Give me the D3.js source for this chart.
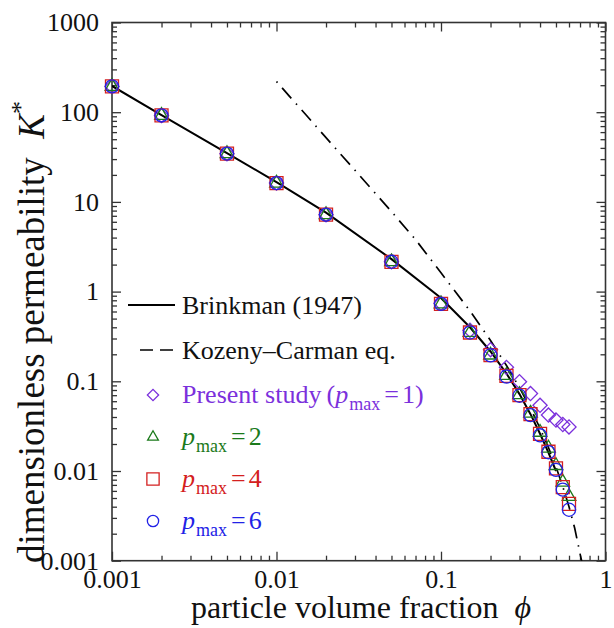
<!DOCTYPE html>
<html>
<head>
<meta charset="utf-8">
<script src="https://cdn.jsdelivr.net/npm/d3@7"></script>
<style>
  body { margin: 0; background: #fff; }
  text { font-family: 'Liberation Serif', 'Times New Roman', serif; }
</style>
</head>
<body>
<svg id="chart" width="614" height="628"></svg>
<script>
// ----- Data -----
// volume fractions of the computed points
let phiPoints = [0.001, 0.002, 0.005, 0.01, 0.02, 0.05, 0.1, 0.15, 0.2, 0.25, 0.3, 0.35, 0.4, 0.45, 0.5, 0.55, 0.6]

let kPmax1 = [194, 92, 34.5, 16.2, 7.2, 2.15, 0.74, 0.37, 0.225, 0.143, 0.099, 0.073, 0.054, 0.042, 0.037, 0.033, 0.031]
let kPmax2 = [194, 92, 34.5, 16.2, 7.2, 2.15, 0.73, 0.35, 0.196, 0.116, 0.071, 0.044, 0.027, 0.018, 0.0115, 0.0075, 0.0052]
let kPmax4 = [194, 92, 34.5, 16.2, 7.2, 2.15, 0.73, 0.35, 0.196, 0.115, 0.070, 0.043, 0.026, 0.0164, 0.0107, 0.0066, 0.0043]
let kPmax6 = [194, 92, 34.5, 16.2, 7.2, 2.15, 0.73, 0.35, 0.195, 0.113, 0.069, 0.042, 0.025, 0.0162, 0.0103, 0.0062, 0.0037]

// Brinkman (1947) curve
let phiBrinkman = [0.001, 0.002, 0.005, 0.01, 0.02, 0.05, 0.1, 0.15, 0.2, 0.25, 0.3, 0.35, 0.4, 0.45, 0.5]
let kBrinkman = [196, 93, 35, 16.6, 7.6, 2.3, 0.85, 0.40, 0.215, 0.122, 0.072, 0.043, 0.026, 0.016, 0.0100]

// Kozeny-Carman eq.
let phiKozeny = [0.01, 0.012, 0.015, 0.02, 0.03, 0.05, 0.07, 0.1, 0.15, 0.2, 0.25, 0.3, 0.35, 0.4, 0.45, 0.5, 0.55, 0.6, 0.65, 0.7, 0.72]
let kKozeny = [220, 150, 95, 52, 22.5, 7.8, 3.8, 1.62, 0.61, 0.285, 0.15, 0.085, 0.05, 0.03, 0.0183, 0.0111, 0.0067, 0.004, 0.0023, 0.0012, 0.00095]

// tick labels
let xTickValues = [0.001, 0.01, 0.1, 1]
let xTickLabels = ['0.001', '0.01', '0.1', '1']
let yTickValues = [0.001, 0.01, 0.1, 1, 10, 100, 1000]
let yTickLabels = ['0.001', '0.01', '0.1', '1', '10', '100', '1000']

// ----- SVG -----
let svg = d3.select('#chart')
let plotLeft = 112, plotRight = 605.5, plotTop = 22.5, plotBottom = 560.7
let axisColor = '#333'

let x = d3.scaleLog().domain([0.001, 1]).range([plotLeft, plotRight])
let y = d3.scaleLog().domain([0.001, 1000]).range([plotBottom, plotTop])

let xMinor = x.ticks().filter(v => xTickValues.indexOf(v) < 0)
let yMinor = y.ticks().filter(v => yTickValues.indexOf(v) < 0)

svg.append('clipPath').attr('id', 'plot-clip')
   .append('rect')
   .attr('x', plotLeft).attr('y', plotTop)
   .attr('width', plotRight - plotLeft).attr('height', plotBottom - plotTop)

// axes: major + minor ticks, pointing inward, on all four sides
function styleAxis(g) {
    g.select('.domain').remove()
    g.selectAll('line').attr('stroke', axisColor).attr('stroke-width', 1.3)
    g.selectAll('text')
     .attr('font-family', 'Liberation Serif')
     .attr('font-size', 26)
     .attr('fill', '#111')
}

let axes = [
    [d3.axisBottom(x), 'translate(0,' + plotBottom + ')', xTickValues, xMinor, xTickLabels, 9],
    [d3.axisTop(x), 'translate(0,' + plotTop + ')', xTickValues, xMinor, null, 0],
    [d3.axisLeft(y), 'translate(' + plotLeft + ',0)', yTickValues, yMinor, yTickLabels, 13],
    [d3.axisRight(y), 'translate(' + plotRight + ',0)', yTickValues, yMinor, null, 0]
]
axes.forEach(function (a) {
    let gen = a[0], labels = a[4]
    svg.append('g').attr('transform', a[1])
       .call(gen.tickValues(a[3]).tickSize(-5).tickFormat(''))
       .call(styleAxis)
    svg.append('g').attr('transform', a[1])
       .call(gen.tickValues(a[2]).tickSize(-9).tickPadding(a[5])
                .tickFormat(function (d, i) { return labels ? labels[i] : '' }))
       .call(styleAxis)
})

// frame
svg.append('rect')
   .attr('x', plotLeft).attr('y', plotTop)
   .attr('width', plotRight - plotLeft).attr('height', plotBottom - plotTop)
   .attr('fill', 'none')
   .attr('stroke', axisColor)
   .attr('stroke-width', 1.6)

// axis titles
let xTitle = svg.append('text')
   .attr('x', 361).attr('y', 618)
   .attr('text-anchor', 'middle')
   .attr('font-size', 32)
   .attr('fill', '#111')
xTitle.append('tspan').text('particle volume fraction\u00a0\u00a0')
xTitle.append('tspan').attr('font-style', 'italic').text('\u03d5')

let yTitle = svg.append('text')
   .attr('transform', 'translate(44,332) rotate(-90)')
   .attr('text-anchor', 'middle')
   .attr('font-size', 37)
   .attr('fill', '#111')
yTitle.append('tspan').text('dimensionless permeability\u00a0\u00a0')
yTitle.append('tspan').attr('font-style', 'italic').text('K')
yTitle.append('tspan').attr('font-size', 26).attr('dy', -15).text('*')

// ----- Curves -----
let line = d3.line()
             .x(function (d) { return x(d[0]) })
             .y(function (d) { return y(d[1]) })

svg.append('path')
   .datum(d3.zip(phiKozeny, kKozeny))
   .attr('clip-path', 'url(#plot-clip)')
   .attr('d', line)
   .attr('fill', 'none')
   .attr('stroke', '#000')
   .attr('stroke-width', 1.7)
   .attr('stroke-dasharray', '1.5,7,14,7')

svg.append('path')
   .datum(d3.zip(phiBrinkman, kBrinkman))
   .attr('clip-path', 'url(#plot-clip)')
   .attr('d', line)
   .attr('fill', 'none')
   .attr('stroke', '#000')
   .attr('stroke-width', 2)

// ----- Markers -----
let purple = '#7b30dc', green = '#1b7a1b', red = '#d42020', blue = '#2222e6'

let series = [
    {k: kPmax1, color: purple, shape: d3.symbolSquare, size: 100, rot: 45},
    {k: kPmax2, color: green, shape: d3.symbolTriangle, size: 80, rot: 0},
    {k: kPmax4, color: red, shape: d3.symbolSquare, size: 169, rot: 0},
    {k: kPmax6, color: blue, shape: d3.symbolCircle, size: 135, rot: 0}
]

series.forEach(function (s) {
    svg.append('g')
       .selectAll('path')
       .data(d3.zip(phiPoints, s.k))
       .enter()
       .append('path')
       .attr('d', d3.symbol().type(s.shape).size(s.size))
       .attr('transform', function (d) {
           return 'translate(' + x(d[0]) + ',' + y(d[1]) + ') rotate(' + s.rot + ')'
       })
       .attr('fill', 'none')
       .attr('stroke', s.color)
       .attr('stroke-width', 1.3)
})

// ----- Legend -----
let legend = svg.append('g')
let legendX = 153, textX = 182

legend.append('line')
      .attr('x1', 128).attr('x2', 175).attr('y1', 305).attr('y2', 305)
      .attr('stroke', '#000').attr('stroke-width', 1.8)
legend.append('text').attr('x', textX).attr('y', 314)
      .attr('font-size', 26).attr('fill', '#111').text('Brinkman (1947)')

legend.append('line')
      .attr('x1', 140).attr('x2', 173).attr('y1', 350).attr('y2', 350)
      .attr('stroke', '#000').attr('stroke-width', 1.6)
      .attr('stroke-dasharray', '13,7')
legend.append('text').attr('x', textX).attr('y', 359)
      .attr('font-size', 26).attr('fill', '#111').text('Kozeny\u2013Carman eq.')

let legendMarks = [
    {y: 395, color: purple, shape: d3.symbolSquare, size: 64, rot: 45, pre: 'Present study\u2009(', val: '1)'},
    {y: 437, color: green, shape: d3.symbolTriangle, size: 50, rot: 0, pre: '', val: '2'},
    {y: 479, color: red, shape: d3.symbolSquare, size: 150, rot: 0, pre: '', val: '4'},
    {y: 521, color: blue, shape: d3.symbolCircle, size: 100, rot: 0, pre: '', val: '6'}
]

legendMarks.forEach(function (m) {
    legend.append('path')
          .attr('d', d3.symbol().type(m.shape).size(m.size))
          .attr('transform', 'translate(' + legendX + ',' + m.y + ') rotate(' + m.rot + ')')
          .attr('fill', 'none')
          .attr('stroke', m.color)
          .attr('stroke-width', 1.3)
    let t = legend.append('text')
                  .attr('x', textX).attr('y', m.y + 8)
                  .attr('font-size', 26).attr('fill', m.color)
    if (m.pre) t.append('tspan').text(m.pre)
    t.append('tspan').attr('font-style', 'italic').text('p')
    t.append('tspan').attr('font-size', 18).attr('dy', 7).attr('dx', 1).text('max')
    t.append('tspan').attr('dy', -7).attr('dx', 4).text('=')
    t.append('tspan').attr('dx', 3).text(m.val)
})
</script>
</body>
</html>
